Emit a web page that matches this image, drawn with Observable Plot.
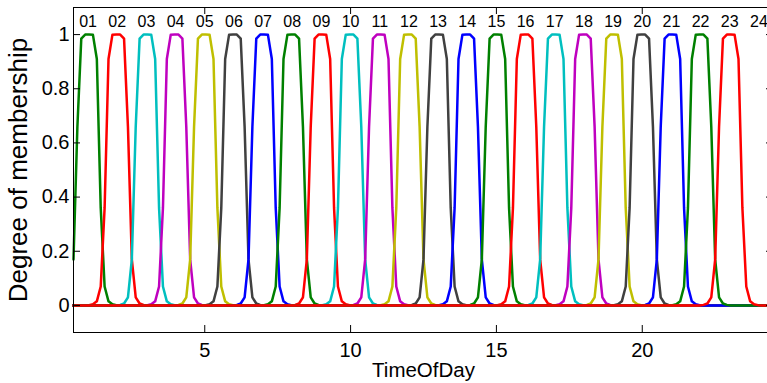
<!DOCTYPE html>
<html><head><meta charset="utf-8">
<script src="https://cdn.jsdelivr.net/npm/d3@7"></script>
<script src="https://cdn.jsdelivr.net/npm/@observablehq/plot@0.6"></script>
<style>html,body{margin:0;padding:0;background:#fff;overflow:hidden}</style>
</head><body><div id="chart"></div>
<script>
// Hour labels printed above the peaks (01..24) and the hours they sit at
const hourLabels = ["01","02","03","04","05","06","07","08","09","10","11","12","13","14","15","16","17","18","19","20","21","22","23","24"];
const labelHours = [1,2,3,4,5,6,7,8,9,10,11,12,13,14,15,16,17,18,19,20,21,22,23,24];
// Hours whose membership curves are drawn (in drawing order)
const curveHours = [1,2,3,4,5,6,7,8,9,10,11,12,13,14,15,16,17,18,19,20,21,22,23];
const curveNames = ["01","02","03","04","05","06","07","08","09","10","11","12","13","14","15","16","17","18","19","20","21","22","23"];
const curveColors = ["#008000","#ff0000","#00bfbf","#bf00bf","#bfbf00","#404040","#0000ff",
  "#008000","#ff0000","#00bfbf","#bf00bf","#bfbf00","#404040","#0000ff",
  "#008000","#ff0000","#00bfbf","#bf00bf","#bfbf00","#404040","#0000ff",
  "#008000","#ff0000"];
// Membership profile: distance from the peak hour -> degree
const profileDist  = [0.033, 0.1, 0.167, 0.233, 0.3, 0.367, 0.433, 0.5, 0.567, 0.633, 0.7, 0.767, 0.833, 0.9, 0.967];
const profileValue = [1.0, 1.0, 0.999, 0.985, 0.91, 0.66, 0.36, 0.17, 0.07, 0.03, 0.015, 0.007, 0.004, 0.002, 0.001];
// sampling grid of the plotted curves (hours)
const gridStart = 0.5, gridEnd = 24.5, gridCount = 181;
const xTicks = [5, 10, 15, 20];
const yTicks = [0, 0.2, 0.4, 0.6, 0.8, 1];
const yTickLabels = ["0", "0.2", "0.4", "0.6", "0.8", "1"];
const xTitle = ["TimeOfDay"];
const yTitle = ["Degree of membership"];

const rows = [];
curveHours.forEach((c, i) => {
  for (let k = 0; k < gridCount; k++) {
    const x = gridStart + k * (gridEnd - gridStart) / (gridCount - 1);
    const idx = Math.round(Math.abs(x - c) * 30);
    const j = (idx - 1) / 2;
    const v = (Number.isInteger(j) && j >= 0 && j < profileValue.length) ? profileValue[j] : 0;
    rows.push({x, y: v, name: curveNames[i]});
  }
});

const font = "'Liberation Sans', Arial, Helvetica, sans-serif";
const chart = Plot.plot({
  width: 767, height: 383,
  marginLeft: 73, marginRight: -6, marginTop: 7, marginBottom: 51,
  style: {fontFamily: font, background: "white", overflow: "hidden"},
  x: {domain: [gridStart, gridEnd]},
  y: {domain: [-0.1, 1.1]},
  color: {domain: curveNames, range: curveColors},
  marks: [
    Plot.line(rows, {x: "x", y: "y", z: "name", stroke: "name", strokeWidth: 2.5, strokeLinejoin: "round"}),
    Plot.frame({stroke: "black", strokeWidth: 1}),
    Plot.tickY(yTicks, {y: d => d, insetRight: 693, stroke: "black"}),
    Plot.tickY(yTicks, {y: d => d, insetLeft: 693, stroke: "black"}),
    Plot.tickX(xTicks, {x: d => d, insetTop: 318, stroke: "black"}),
    Plot.tickX(xTicks, {x: d => d, insetBottom: 318, stroke: "black"}),
    Plot.axisX(xTicks, {tickSize: 0, tickPadding: 10, fontSize: 20, label: null, fill: "black"}),
    Plot.axisY(yTicks, {tickSize: 0, tickPadding: 4, fontSize: 20, label: null, fill: "black",
      tickFormat: (d, i) => yTickLabels[yTicks.indexOf(d)]}),
    Plot.text(hourLabels, {x: (d, i) => labelHours[i], text: d => d, frameAnchor: "top", dy: 14,
      fontSize: 16, fill: "black", lineAnchor: "middle"}),
    Plot.text(xTitle, {text: d => d, frameAnchor: "bottom", dy: 38, fontSize: 20.5, fill: "black", lineAnchor: "middle", textAnchor: "middle"}),
    Plot.text(yTitle, {text: d => d, frameAnchor: "left", dx: -55, rotate: -90, fontSize: 26, fill: "black", lineAnchor: "middle", textAnchor: "middle"})
  ]
});
document.getElementById("chart").appendChild(chart);
</script>
</body></html>
